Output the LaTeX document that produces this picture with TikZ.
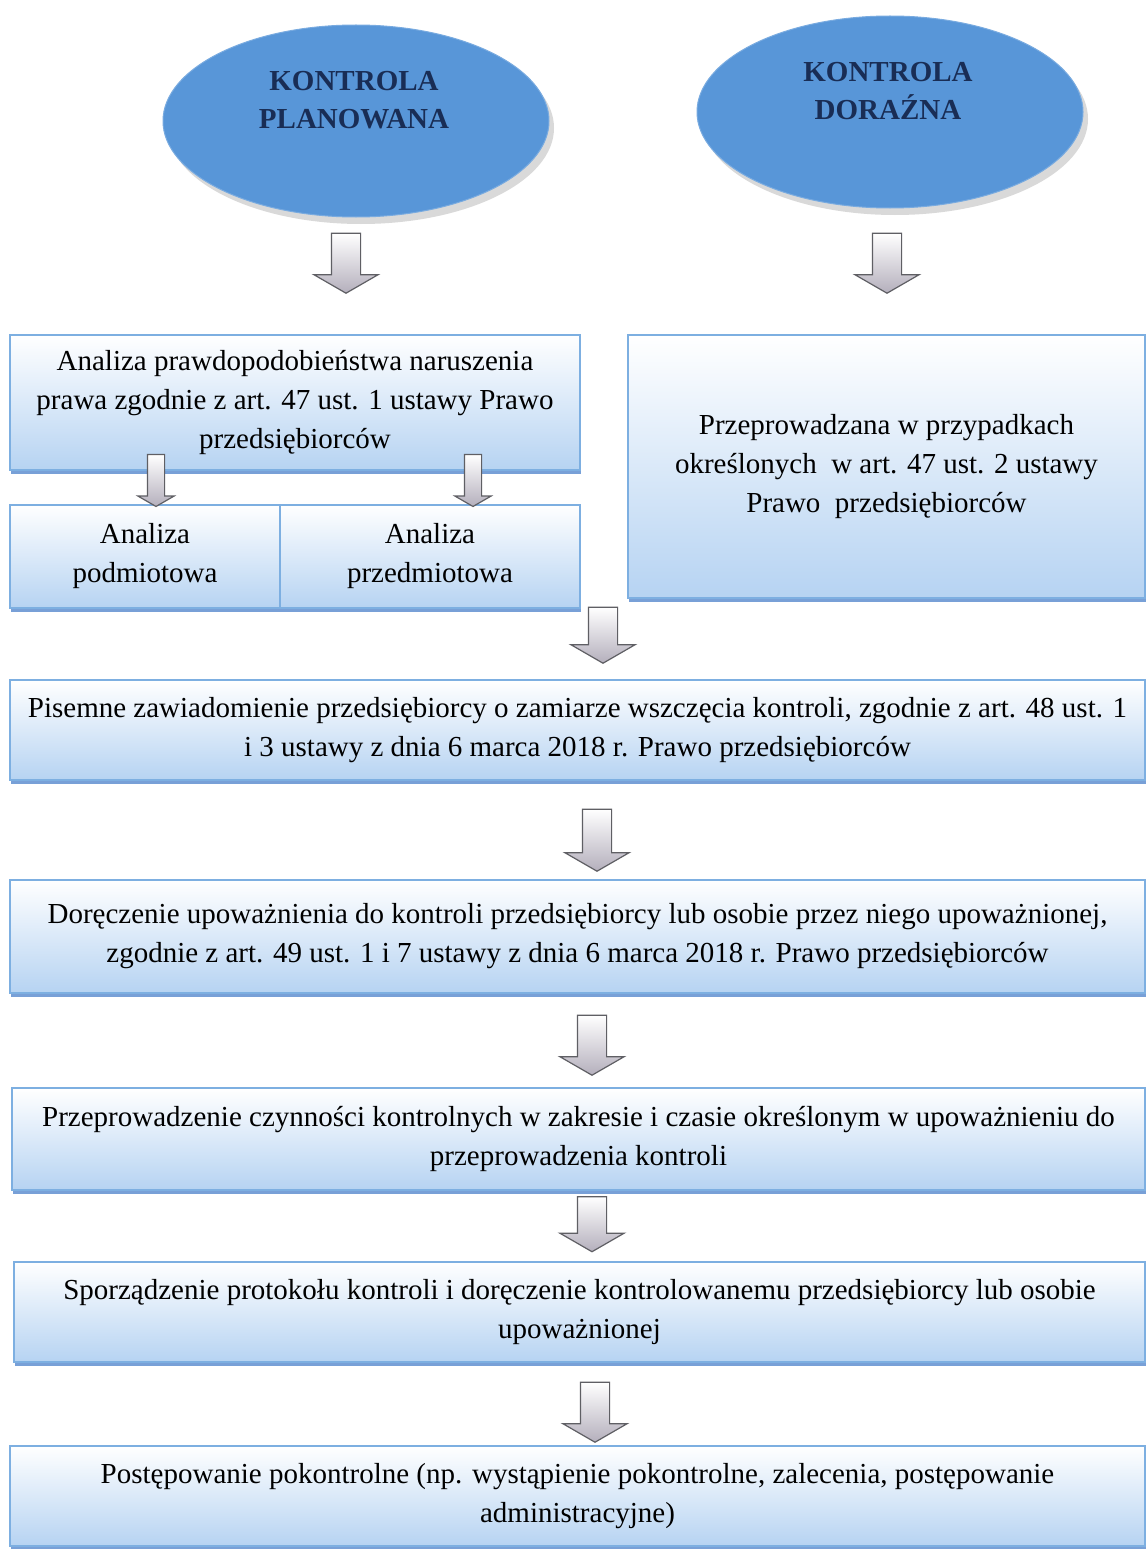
\documentclass[tikz,border=0pt]{standalone}
\usepackage{fontspec}
\setmainfont{Liberation Serif}
\usetikzlibrary{shapes.geometric,shapes.arrows,shadows}
\definecolor{ellblue}{RGB}{88,150,216}
\definecolor{boxline}{RGB}{125,175,225}
\definecolor{boxfill}{RGB}{182,211,242}
\definecolor{boxshadow}{RGB}{120,160,215}
\definecolor{navy}{RGB}{25,45,85}
\definecolor{arrline}{RGB}{95,95,100}
\definecolor{arrfill}{RGB}{180,175,188}
\begin{document}
\begin{tikzpicture}[x=1pt,y=-1pt,
 oval/.style={ellipse, fill=ellblue, draw=ellblue!80!white, line width=1pt,
   minimum width=386pt, minimum height=192pt,
   drop shadow={shadow xshift=5pt, shadow yshift=-7pt, fill=gray!30, opacity=1}},
 ovaltext/.style={font=\fontsize{29}{38}\selectfont\bfseries, text=navy, align=center, inner sep=0pt},
 box/.style={rectangle, draw=boxline, line width=1.2pt, top color=white, bottom color=boxfill,
   inner sep=0pt, align=center, font=\fontsize{29}{39}\selectfont,
   drop shadow={shadow xshift=1pt, shadow yshift=-4pt, fill=boxshadow, opacity=1}},
 bigarrow/.style={single arrow, shape border rotate=270, draw=arrline, line width=1.2pt,
   top color=white, bottom color=arrfill, inner xsep=14pt, inner ysep=0pt,
   single arrow head extend=17.5pt, single arrow tip angle=120},
 smallarrow/.style={bigarrow, inner xsep=8pt, single arrow head extend=9.5pt}
]
\useasboundingbox[fill=white] (0,0) rectangle (1147,1549);

% ovals
\node[oval] (plan) at (356,121) {};
\node[ovaltext] (plantxt) at (354,100) {KONTROLA\\PLANOWANA};
\node[oval] (dor) at (890,112) {};
\node[ovaltext] (dortxt) at (888,91) {KONTROLA\\DORAŹNA};

% boxes
\node[box, minimum width=570pt, minimum height=135pt] (anal) at (295,402.5)
  {Analiza prawdopodobieństwa naruszenia\\prawa zgodnie z art. 47 ust. 1 ustawy Prawo\\przedsiębiorców};
\node[box, minimum width=270pt, minimum height=103pt] (podm) at (145,556.5)
  {Analiza\\podmiotowa};
\node[box, minimum width=300pt, minimum height=103pt] (przedm) at (430,556.5)
  {Analiza\\przedmiotowa};
\node[box, minimum width=517pt, minimum height=263pt] (dorbox) at (886.5,466.5)
  {Przeprowadzana w przypadkach\\określonych\ \ w art. 47 ust. 2 ustawy\\Prawo\ \ przedsiębiorców};
\node[box, minimum width=1135pt, minimum height=100pt] (zaw) at (577.5,730)
  {Pisemne zawiadomienie przedsiębiorcy o zamiarze wszczęcia kontroli, zgodnie z art. 48 ust. 1\\i 3 ustawy z dnia 6 marca 2018 r. Prawo przedsiębiorców};
\node[box, minimum width=1135pt, minimum height=113pt] (dorecz) at (577.5,936.5)
  {Doręczenie upoważnienia do kontroli przedsiębiorcy lub osobie przez niego upoważnionej,\\zgodnie z art. 49 ust. 1 i 7 ustawy z dnia 6 marca 2018 r. Prawo przedsiębiorców};
\node[box, minimum width=1133pt, minimum height=102pt] (czyn) at (578.5,1139)
  {Przeprowadzenie czynności kontrolnych w zakresie i czasie określonym w upoważnieniu do\\przeprowadzenia kontroli};
\node[box, minimum width=1131pt, minimum height=100pt] (prot) at (579.5,1312)
  {Sporządzenie protokołu kontroli i doręczenie kontrolowanemu przedsiębiorcy lub osobie\\upoważnionej};
\node[box, minimum width=1135pt, minimum height=100pt] (pokon) at (577.5,1496)
  {Postępowanie pokontrolne (np. wystąpienie pokontrolne, zalecenia, postępowanie\\administracyjne)};

% arrows
\node[bigarrow, minimum height=60pt] (a1) at (346,259) {};
\node[bigarrow, minimum height=60pt] (a2) at (887,259) {};
\node[smallarrow, minimum height=52pt] (s1) at (156,478) {};
\node[smallarrow, minimum height=52pt] (s2) at (473,478) {};
\node[bigarrow, minimum height=56pt] (a3) at (603,631) {};
\node[bigarrow, minimum height=62pt] (a4) at (597,836) {};
\node[bigarrow, minimum height=60pt] (a5) at (592,1041) {};
\node[bigarrow, minimum height=55pt] (a6) at (592,1220) {};
\node[bigarrow, minimum height=60pt] (a7) at (595,1408) {};
\end{tikzpicture}
\end{document}
